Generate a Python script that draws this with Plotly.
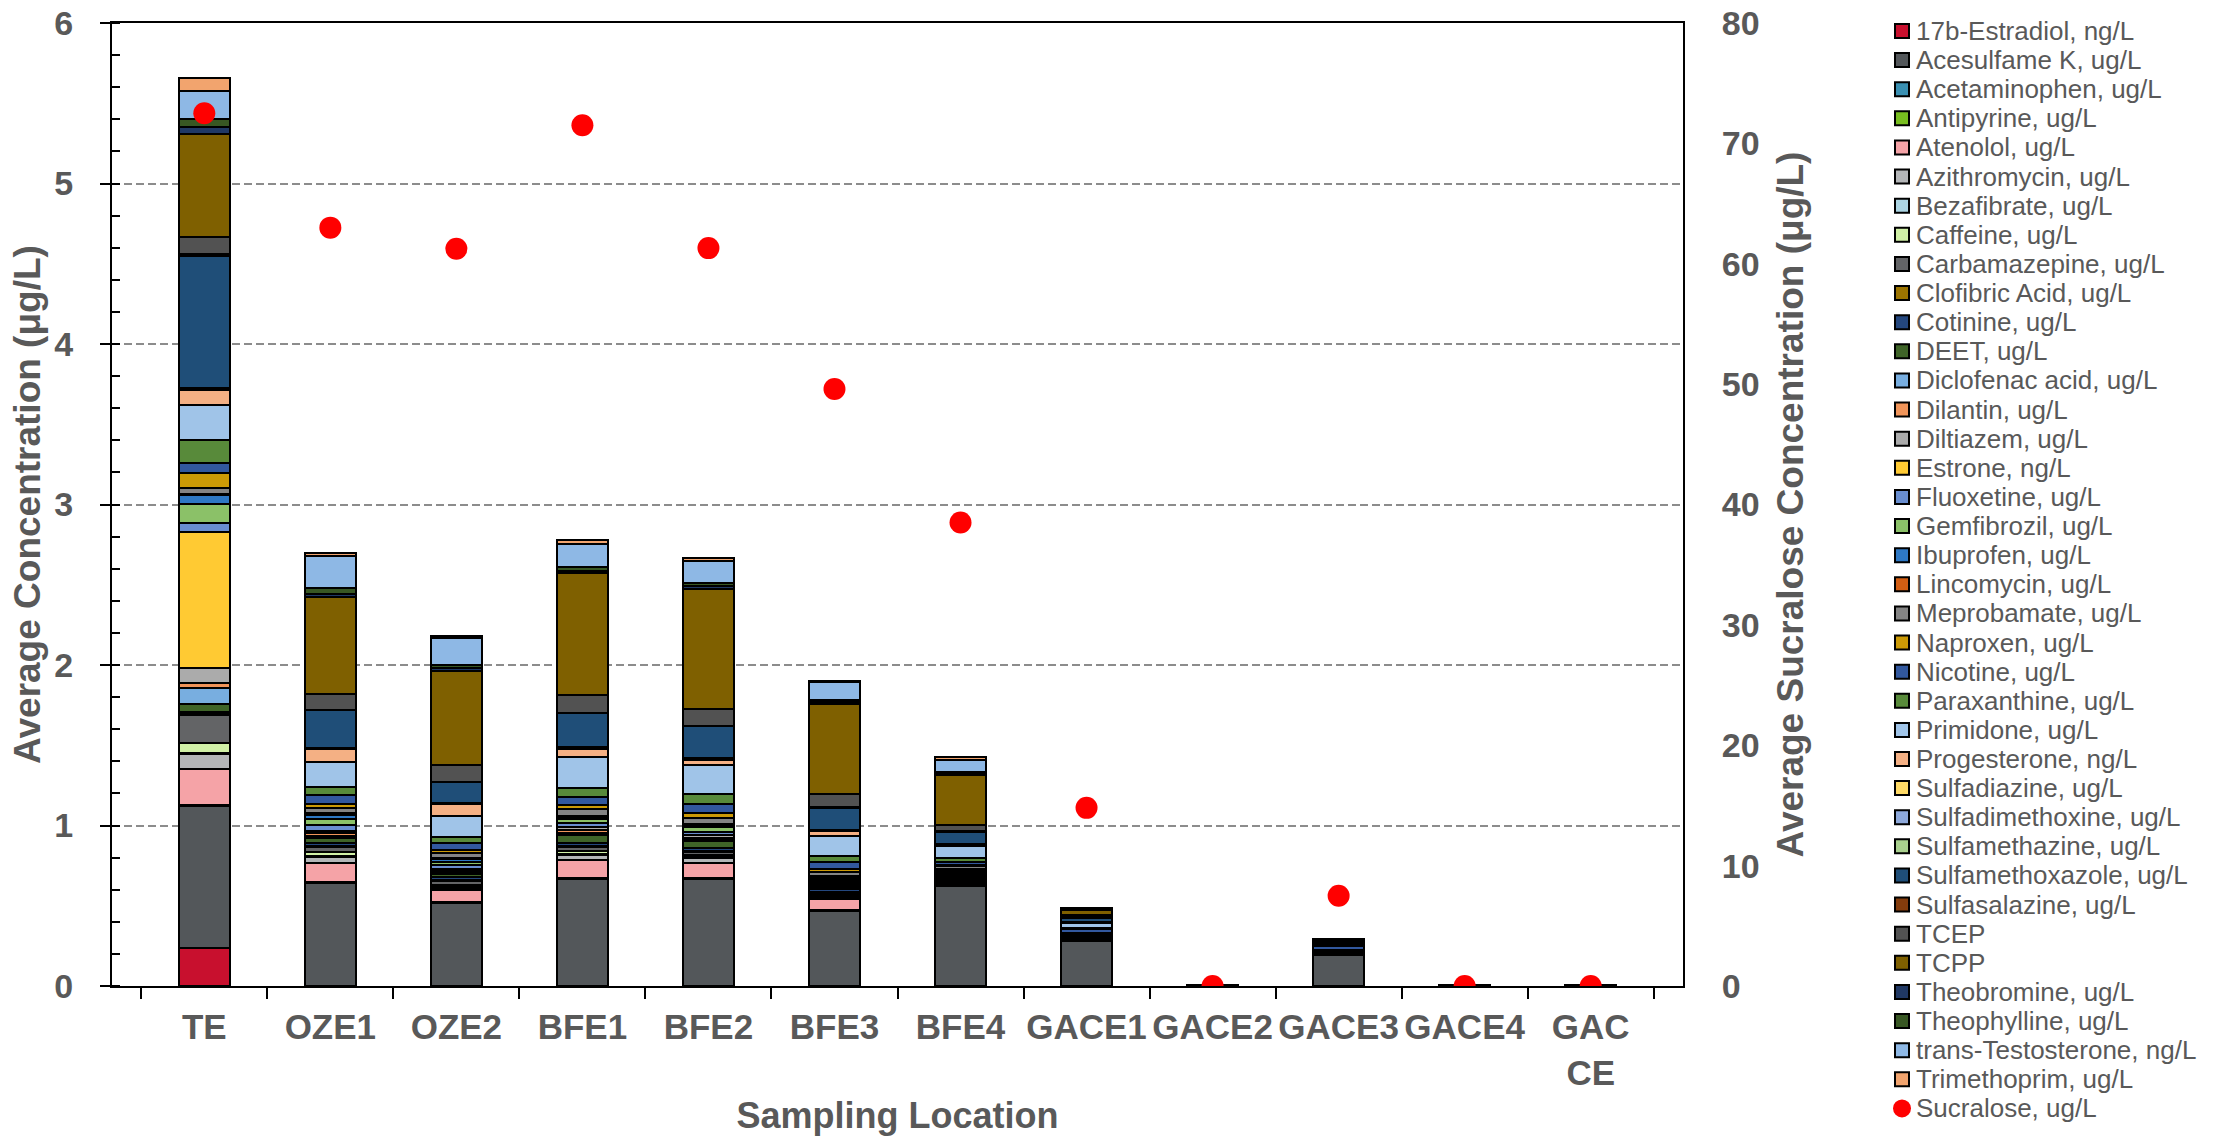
import plotly.graph_objects as go

# Sampling locations (x categories)
locations = ["TE", "OZE1", "OZE2", "BFE1", "BFE2", "BFE3", "BFE4",
             "GACE1", "GACE2", "GACE3", "GACE4", "GAC<br>CE"]

# Average concentration of each compound per location (stacked, bottom to top)
estradiol_17b = [0.234, 0, 0, 0, 0, 0, 0, 0, 0, 0, 0, 0]
acesulfame_k = [0.885, 0.639, 0.518, 0.668, 0.668, 0.466, 0.620, 0.279, 0.008, 0.196, 0.005, 0.005]
acetaminophen = [0.005, 0.005, 0.004, 0.005, 0.005, 0.004, 0.003, 0.002, 0, 0, 0, 0]
antipyrine = [0.005, 0.004, 0.003, 0.003, 0.003, 0.003, 0.003, 0.002, 0, 0, 0, 0]
atenolol = [0.220, 0.120, 0.072, 0.112, 0.092, 0.066, 0.012, 0.004, 0, 0, 0, 0]
azithromycin = [0.095, 0.037, 0.015, 0.031, 0.032, 0.015, 0.005, 0.003, 0, 0, 0, 0]
bezafibrate = [0.005, 0.006, 0.005, 0.005, 0.005, 0.005, 0.004, 0.002, 0, 0, 0, 0]
caffeine = [0.063, 0.027, 0.015, 0.015, 0.010, 0.008, 0.004, 0.002, 0, 0, 0, 0]
carbamazepine = [0.175, 0.030, 0.020, 0.025, 0.020, 0.015, 0.012, 0.005, 0, 0.006, 0, 0]
clofibric_acid = [0.008, 0.006, 0.010, 0.010, 0.005, 0.005, 0.005, 0.002, 0, 0, 0, 0]
cotinine = [0.012, 0.020, 0.015, 0.020, 0.020, 0.015, 0.010, 0.004, 0, 0.005, 0, 0]
deet = [0.050, 0.027, 0.020, 0.045, 0.045, 0.015, 0.010, 0.004, 0, 0.005, 0, 0]
diclofenac_acid = [0.098, 0.012, 0.010, 0.015, 0.010, 0.005, 0.005, 0.002, 0, 0, 0, 0]
dilantin = [0.035, 0.020, 0.010, 0.015, 0.010, 0.010, 0.005, 0.002, 0, 0, 0, 0]
diltiazem = [0.090, 0.015, 0.015, 0.020, 0.015, 0.010, 0.008, 0.002, 0, 0, 0, 0]
estrone = [0.848, 0, 0, 0, 0, 0, 0, 0, 0, 0, 0, 0]
fluoxetine = [0.056, 0.035, 0.020, 0.025, 0.020, 0.012, 0.008, 0.002, 0, 0, 0, 0]
gemfibrozil = [0.120, 0.035, 0.020, 0.025, 0.030, 0.012, 0.006, 0.002, 0, 0, 0, 0]
ibuprofen = [0.057, 0.030, 0.020, 0.015, 0.015, 0.010, 0.006, 0.002, 0, 0, 0, 0]
lincomycin = [0.006, 0.008, 0.008, 0.006, 0.005, 0.010, 0.004, 0.002, 0, 0, 0, 0]
meprobamate = [0.035, 0.035, 0.030, 0.045, 0.035, 0.025, 0.015, 0.006, 0, 0.006, 0, 0]
naproxen = [0.092, 0.020, 0.020, 0.020, 0.030, 0.020, 0.008, 0.004, 0, 0.005, 0, 0]
nicotine = [0.064, 0.056, 0.042, 0.054, 0.056, 0.040, 0.022, 0.022, 0, 0.025, 0, 0]
paraxanthine = [0.147, 0.054, 0.038, 0.056, 0.066, 0.042, 0.025, 0.006, 0, 0, 0, 0]
primidone = [0.216, 0.153, 0.132, 0.193, 0.183, 0.120, 0.071, 0.030, 0, 0.008, 0, 0]
progesterone = [0.094, 0.080, 0.069, 0.050, 0.031, 0.032, 0.008, 0.004, 0, 0, 0, 0]
sulfadiazine = [0.004, 0.004, 0.003, 0.004, 0.003, 0.003, 0.002, 0.002, 0, 0, 0, 0]
sulfadimethoxine = [0.004, 0.004, 0.003, 0.004, 0.003, 0.003, 0.002, 0.002, 0, 0, 0, 0]
sulfamethazine = [0.004, 0.004, 0.003, 0.004, 0.003, 0.003, 0.002, 0.002, 0, 0, 0, 0]
sulfamethoxazole = [0.824, 0.232, 0.130, 0.208, 0.199, 0.136, 0.076, 0.025, 0, 0.010, 0, 0]
sulfasalazine = [0.010, 0.004, 0.004, 0.004, 0.003, 0.003, 0.004, 0.002, 0, 0, 0, 0]
tcep = [0.105, 0.100, 0.100, 0.108, 0.105, 0.084, 0.041, 0.012, 0, 0.010, 0, 0]
tcpp = [0.644, 0.603, 0.587, 0.764, 0.748, 0.561, 0.306, 0.035, 0, 0.006, 0, 0]
theobromine = [0.045, 0.020, 0.020, 0.012, 0.015, 0.012, 0.010, 0.003, 0, 0, 0, 0]
theophylline = [0.048, 0.036, 0.020, 0.026, 0.022, 0.015, 0.012, 0.003, 0, 0.004, 0, 0]
trans_testosterone = [0.172, 0.197, 0.165, 0.145, 0.135, 0.108, 0.077, 0.004, 0, 0.005, 0, 0]
trimethoprim = [0.081, 0.021, 0.017, 0.021, 0.021, 0.009, 0.013, 0.002, 0, 0, 0, 0]

# Sucralose on the secondary axis (ug/L)
sucralose = [72.5, 63.0, 61.25, 71.5, 61.3, 49.6, 38.5, 14.8, 0, 7.5, 0, 0]

series = [
    ("17b-Estradiol, ng/L", "#C8102E", estradiol_17b),
    ("Acesulfame K, ug/L", "#53575A", acesulfame_k),
    ("Acetaminophen, ug/L", "#3A90B2", acetaminophen),
    ("Antipyrine, ug/L", "#78BE20", antipyrine),
    ("Atenolol, ug/L", "#F5A3A7", atenolol),
    ("Azithromycin, ug/L", "#B4B6B8", azithromycin),
    ("Bezafibrate, ug/L", "#ACD5E3", bezafibrate),
    ("Caffeine, ug/L", "#D0F0A6", caffeine),
    ("Carbamazepine, ug/L", "#636466", carbamazepine),
    ("Clofibric Acid, ug/L", "#9C7400", clofibric_acid),
    ("Cotinine, ug/L", "#24477E", cotinine),
    ("DEET, ug/L", "#3F6428", deet),
    ("Diclofenac acid, ug/L", "#78AEE0", diclofenac_acid),
    ("Dilantin, ug/L", "#F09459", dilantin),
    ("Diltiazem, ug/L", "#ABABAB", diltiazem),
    ("Estrone, ng/L", "#FFCA33", estrone),
    ("Fluoxetine, ug/L", "#698ED0", fluoxetine),
    ("Gemfibrozil, ug/L", "#8BC168", gemfibrozil),
    ("Ibuprofen, ug/L", "#2E78C4", ibuprofen),
    ("Lincomycin, ug/L", "#D35E13", lincomycin),
    ("Meprobamate, ug/L", "#848484", meprobamate),
    ("Naproxen, ug/L", "#CC9A06", naproxen),
    ("Nicotine, ug/L", "#32589E", nicotine),
    ("Paraxanthine, ug/L", "#588A3A", paraxanthine),
    ("Primidone, ug/L", "#A0C4E8", primidone),
    ("Progesterone, ng/L", "#F4B084", progesterone),
    ("Sulfadiazine, ug/L", "#FFDA66", sulfadiazine),
    ("Sulfadimethoxine, ug/L", "#8EA9DB", sulfadimethoxine),
    ("Sulfamethazine, ug/L", "#A9D08E", sulfamethazine),
    ("Sulfamethoxazole, ug/L", "#1F4E78", sulfamethoxazole),
    ("Sulfasalazine, ug/L", "#843C0C", sulfasalazine),
    ("TCEP", "#525252", tcep),
    ("TCPP", "#7F6000", tcpp),
    ("Theobromine, ug/L", "#203864", theobromine),
    ("Theophylline, ug/L", "#385723", theophylline),
    ("trans-Testosterone, ng/L", "#8EB8E5", trans_testosterone),
    ("Trimethoprim, ug/L", "#F2A46E", trimethoprim),
]

FONT = "Arial, 'Liberation Sans', sans-serif"
GREY = "#595959"

W, H = 2220, 1140
ML, MR, MT, MB = 112, 537, 23, 154
PW, PH = W - ML - MR, H - MT - MB

fig = go.Figure()

for name, color, vals in series:
    fig.add_trace(go.Bar(
        x=locations, y=vals, name=name,
        marker=dict(color=color, line=dict(color="black", width=2)),
        showlegend=False,
    ))

fig.add_trace(go.Scatter(
    x=locations, y=sucralose, name="Sucralose, ug/L", yaxis="y2",
    mode="markers", marker=dict(color="#FF0000", size=22),
    showlegend=False,
))

# Legend drawn beside the plot area (pixel positions converted to paper units)
def px_x(px):
    return (px - ML) / PW


def px_y(py):
    return (MT + PH - py) / PH


shapes = []
annotations = []
row0, row_step = 31.0, 29.12
entries = [(n, c) for n, c, _ in series] + [("Sucralose, ug/L", "#FF0000")]
for i, (name, color) in enumerate(entries):
    cy = row0 + i * row_step
    if i < len(series):
        shapes.append(dict(type="rect", xref="paper", yref="paper",
                           x0=px_x(1895), x1=px_x(1909),
                           y0=px_y(cy + 7), y1=px_y(cy - 7),
                           fillcolor=color, line=dict(color="black", width=2)))
    else:
        shapes.append(dict(type="circle", xref="paper", yref="paper",
                           x0=px_x(1893), x1=px_x(1911),
                           y0=px_y(cy + 9), y1=px_y(cy - 9),
                           fillcolor=color, line=dict(color=color, width=0)))
    annotations.append(dict(xref="paper", yref="paper", x=px_x(1914), y=px_y(cy),
                            xanchor="left", yanchor="middle", showarrow=False,
                            text=name, font=dict(family=FONT, size=26, color=GREY)))

fig.update_layout(
    width=W, height=H,
    margin=dict(l=ML, r=MR, t=MT, b=MB, pad=0, autoexpand=False),
    paper_bgcolor="white", plot_bgcolor="white",
    barmode="stack", bargap=0.6,
    font=dict(family=FONT, color=GREY),
    shapes=shapes, annotations=annotations,
    xaxis=dict(
        type="category", automargin=False, tickangle=0,
        showline=True, linecolor="black", linewidth=2, mirror=True,
        ticks="outside", tickson="boundaries", ticklen=11, tickwidth=2, tickcolor="black",
        tickfont=dict(family=FONT, size=35, color=GREY, weight="bold"),
        ticklabelstandoff=9,
        title=dict(text="Sampling Location", standoff=12,
                   font=dict(family=FONT, size=36, color=GREY, weight="bold")),
        showgrid=False,
    ),
    yaxis=dict(
        range=[0, 6], dtick=1, automargin=False,
        showline=True, linecolor="black", linewidth=2,
        ticks="outside", ticklen=10, tickwidth=2, tickcolor="black",
        minor=dict(dtick=0.2, ticks="inside", ticklen=8, tickwidth=2, tickcolor="black", showgrid=False),
        tickfont=dict(family=FONT, size=34, color=GREY, weight="bold"),
        ticklabelstandoff=20,
        showgrid=True, gridcolor="#8C8C8C", gridwidth=2, griddash="8px,4px",
        zeroline=False,
        title=dict(text="Average Concentration (μg/L)", standoff=2,
                   font=dict(family=FONT, size=37, color=GREY, weight="bold")),
    ),
    yaxis2=dict(
        range=[0, 80], dtick=10, overlaying="y", side="right", automargin=False,
        showline=True, linecolor="black", linewidth=2, ticks="",
        tickfont=dict(family=FONT, size=34, color=GREY, weight="bold"),
        ticklabelstandoff=30, showgrid=False, zeroline=False,
        title=dict(text="Average Sucralose Concentration (μg/L)", standoff=18,
                   font=dict(family=FONT, size=37, color=GREY, weight="bold")),
    ),
    yaxis3=dict(
        range=[0, 6], dtick=1, overlaying="y", side="left", anchor="x", automargin=False,
        ticks="inside", ticklen=11, tickwidth=2, tickcolor="black",
        showticklabels=False, showgrid=False, showline=False, zeroline=False,
    ),
)

fig.write_html("out.html")
